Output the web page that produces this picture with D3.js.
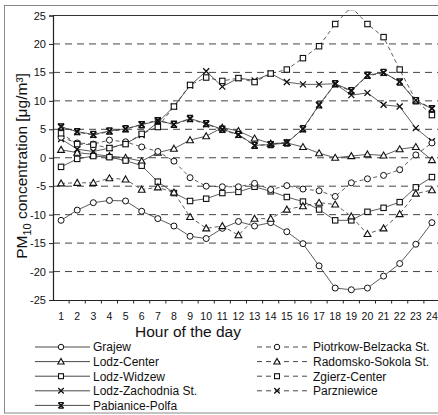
<!DOCTYPE html>
<html><head><meta charset="utf-8">
<script src="https://cdn.jsdelivr.net/npm/d3@7"></script>
<style>body{margin:0;background:#fff}svg{display:block}text{font-family:"Liberation Sans",Arial,sans-serif;fill:#111}</style>
</head><body><svg id="c" width="438" height="415"></svg>
<script>
const hours = d3.range(1, 25);
const yTicks = [25,20,15,10,5,0,-5,-10,-15,-20,-25];
const grajew = [-11.0,-9.2,-7.9,-7.5,-7.6,-9.4,-10.7,-12.0,-13.8,-14.2,-12.4,-11.2,-12.0,-11.4,-13.0,-15.1,-19.0,-22.9,-23.2,-22.9,-20.8,-18.6,-15.2,-11.4];
const lodzCenter = [1.4,0.9,0.6,0.3,0.0,-0.6,0.9,1.6,3.1,3.8,5.3,4.7,3.4,2.5,2.6,1.9,0.8,0.0,0.3,0.6,0.4,1.5,1.9,-0.4];
const lodzWidzew = [-1.6,-0.2,0.3,0.1,-0.5,-1.4,-4.2,-6.2,-7.6,-7.2,-6.2,-6.0,-5.1,-5.9,-6.9,-7.7,-9.1,-11.0,-11.0,-9.5,-8.8,-7.8,-5.2,-3.4];
const lodzZachodnia = [3.3,1.5,1.1,1.7,2.5,4.0,6.2,9.0,12.7,15.2,12.5,14.0,13.6,14.8,13.3,12.9,12.9,13.0,11.0,11.4,9.3,9.0,5.2,2.9];
const pabianice = [5.4,4.6,4.1,4.7,5.1,5.8,6.5,5.9,6.9,6.0,5.0,4.1,2.2,2.3,2.6,5.1,9.3,13.0,11.8,14.5,15.0,13.3,10.0,8.6];
const piotrkow = [3.6,2.6,2.4,3.1,2.8,1.9,1.1,-0.6,-3.5,-5.0,-5.1,-5.1,-4.5,-5.6,-4.9,-5.5,-5.8,-6.8,-4.4,-3.7,-3.1,-2.1,0.5,2.6];
const radomsko = [-4.5,-4.4,-4.4,-3.6,-3.8,-5.6,-5.2,-6.1,-10.4,-12.4,-12.0,-13.6,-10.7,-10.7,-9.1,-8.5,-7.9,-8.2,-10.3,-13.4,-12.4,-9.9,-6.3,-5.7];
const zgierz = [4.3,2.4,2.3,1.7,2.4,4.2,5.4,9.0,12.8,14.1,13.5,14.0,13.3,14.8,15.5,17.5,19.6,23.5,26.5,23.5,21.2,15.5,10.1,7.5];
const parzniewice = [5.5,4.5,4.0,4.6,5.0,5.9,6.6,5.8,6.8,5.9,4.9,4.0,2.1,2.4,2.7,5.0,9.2,12.9,11.7,14.4,14.9,13.4,10.1,8.7];

const seriesNames = ["Grajew","Lodz-Center","Lodz-Widzew","Lodz-Zachodnia St.","Pabianice-Polfa","Piotrkow-Belzacka St.","Radomsko-Sokola St.","Zgierz-Center","Parzniewice"];
const seriesValues = [grajew,lodzCenter,lodzWidzew,lodzZachodnia,pabianice,piotrkow,radomsko,zgierz,parzniewice];
const seriesMarkers = ["circle","triangle","square","x","star","circle","triangle","square","x"];
const seriesDashed = [false,false,false,false,false,true,true,true,true];

const svg = d3.select("#c");
const L = 53, R = 440, T = 15.5, B = 300;
const x = d3.scaleBand().domain(hours).range([L, R]);
const y = d3.scaleLinear().domain([-25, 25]).range([B, T]);
const cx = h => x(h) + x.bandwidth() / 2;

// outer frame
svg.append("rect").attr("x", 4.5).attr("y", 5.5).attr("width", 450).attr("height", 407.5)
  .attr("fill", "none").attr("stroke", "#888").attr("stroke-width", 1);

// gridlines
svg.append("g").selectAll("line").data(yTicks.filter(v => v > -25 && v < 25)).join("line")
  .attr("x1", L).attr("x2", R + 5).attr("y1", d => y(d)).attr("y2", d => y(d))
  .attr("stroke", "#444").attr("stroke-width", 1).attr("stroke-dasharray", "7,5");
// top border
svg.append("line").attr("x1", L).attr("x2", R + 5).attr("y1", y(25)).attr("y2", y(25))
  .attr("stroke", "#333").attr("stroke-width", 1.2);

// clip
svg.append("clipPath").attr("id", "clip").append("rect").attr("x", L - 6).attr("y", 10).attr("width", 400).attr("height", B - 10 + 6);

const plot = svg.append("g").attr("clip-path", "url(#clip)");
const line = d3.line().x((d, i) => cx(hours[i])).y(d => y(d));

function marker(g, type, px, py, s) {
  const st = {stroke: "#111", "stroke-width": 1.1};
  if (type === "circle") {
    g.append("circle").attr("cx", px).attr("cy", py).attr("r", s * 0.5).attr("fill", "#fff").attr("stroke", "#111").attr("stroke-width", 1);
  } else if (type === "triangle") {
    const h = s * 0.95;
    g.append("path").attr("d", `M${px},${py - h * 0.6}L${px + h * 0.6},${py + h * 0.45}L${px - h * 0.6},${py + h * 0.45}Z`)
      .attr("fill", "#fff").attr("stroke", "#111").attr("stroke-width", 1.1);
  } else if (type === "square") {
    g.append("rect").attr("x", px - s * 0.45).attr("y", py - s * 0.45).attr("width", s * 0.9).attr("height", s * 0.9)
      .attr("fill", "#fff").attr("stroke", "#111").attr("stroke-width", 1.1);
  } else if (type === "x") {
    const a = s * 0.5;
    g.append("path").attr("d", `M${px - a},${py - a}L${px + a},${py + a}M${px - a},${py + a}L${px + a},${py - a}`)
      .attr("stroke", "#111").attr("stroke-width", 1.3).attr("fill", "none");
  } else if (type === "star") {
    const a = s * 0.5;
    g.append("path").attr("d", `M${px - a},${py - a}L${px + a},${py + a}M${px - a},${py + a}L${px + a},${py - a}M${px - a},${py - a}L${px + a},${py - a}M${px - a},${py + a}L${px + a},${py + a}`)
      .attr("stroke", "#111").attr("stroke-width", 1.4).attr("fill", "none");
  }
}

seriesValues.forEach((vals, k) => {
  const g = plot.append("g");
  g.append("path").datum(vals).attr("d", line).attr("fill", "none")
    .attr("stroke", "#333").attr("stroke-width", 0.8)
    .attr("stroke-dasharray", seriesDashed[k] ? "4,3" : null);
  vals.forEach((v, i) => marker(g, seriesMarkers[k], cx(hours[i]), y(v), 6));
});

// axes
const yAxis = svg.append("g").attr("transform", `translate(${L},0)`)
  .call(d3.axisLeft(y).tickValues(yTicks).tickSize(4).tickPadding(3).tickFormat(d => d));
yAxis.select(".domain").attr("stroke", "#222").attr("stroke-width", 1.2);
yAxis.selectAll(".tick line").attr("stroke", "#222");
yAxis.selectAll("text").style("font-size", "11px").attr("fill", "#111");

const xAxis = svg.append("g").attr("transform", `translate(0,${B})`)
  .call(d3.axisBottom(x).tickSize(0).tickPadding(13));
xAxis.select(".domain").attr("stroke", "#222").attr("stroke-width", 1.2);
xAxis.selectAll("text").style("font-size", "10.5px").attr("fill", "#111");
xAxis.selectAll(".edge").data(hours.slice(1)).join("line").attr("class", "edge")
  .attr("x1", d => x(d)).attr("x2", d => x(d)).attr("y1", 0).attr("y2", 3.5).attr("stroke", "#222");

// axis titles
svg.append("text").attr("x", 188).attr("y", 337).attr("text-anchor", "middle").style("font-size", "15.5px").text("Hour of the day");
const yt = svg.append("text").attr("transform", "translate(27,166) rotate(-90)").attr("text-anchor", "middle").style("font-size", "15.5px");
yt.append("tspan").text("PM");
yt.append("tspan").attr("dy", 4).style("font-size", "11px").text("10");
yt.append("tspan").attr("dy", -4).text(" concentration [μg/m³]");

// legend
const legL = svg.append("g");
seriesNames.forEach((name, k) => {
  const col = k < 5 ? 0 : 1;
  const row = k < 5 ? k : k - 5;
  const yy = 347 + row * 14.6;
  const x0 = col === 0 ? 35 : 257, x1 = col === 0 ? 90 : 310, mx = col === 0 ? 61 : 277;
  legL.append("line").attr("x1", x0).attr("x2", x1).attr("y1", yy).attr("y2", yy)
    .attr("stroke", "#333").attr("stroke-width", 0.9).attr("stroke-dasharray", seriesDashed[k] ? "5,4" : null);
  marker(legL, seriesMarkers[k], mx, yy, 5.5);
  legL.append("text").attr("x", col === 0 ? 93 : 313).attr("y", yy + 4.3).style("font-size", "12px").text(name);
});
</script></body></html>
